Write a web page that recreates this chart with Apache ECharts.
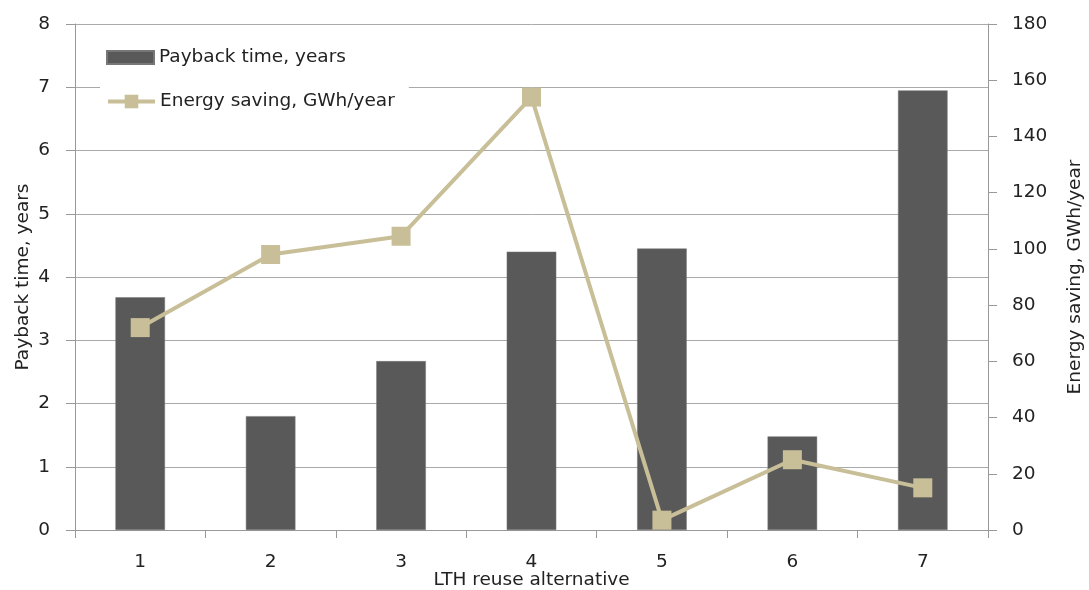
<!DOCTYPE html>
<html><head><meta charset="utf-8">
<script src="https://cdn.jsdelivr.net/npm/echarts@6/dist/echarts.min.js"></script>
<style>html,body{margin:0;padding:0;background:#fff}#c{width:1089px;height:590px}</style>
</head><body><div id="c"></div>
<script>
const categories = ['1','2','3','4','5','6','7'];
const payback = [3.68, 1.8, 2.67, 4.4, 4.45, 1.48, 6.95];
const energy = [72, 98, 104.5, 154, 3.5, 25, 15];
const leftTicks = [0,1,2,3,4,5,6,7,8];
const rightTicks = [0,20,40,60,80,100,120,140,160,180];

const FONT = '"DejaVu Sans", "Noto Sans", sans-serif';
const FS = 18.5;
const chart = echarts.init(document.getElementById('c'));
chart.setOption({
  animation: false,
  textStyle: {fontFamily: FONT},
  grid: {left: 75, right: 101, top: 24, bottom: 60, outerBoundsMode: 'none', containLabel: false},
  legend: [{
    data: [{name: 'Payback time, years', icon: 'rect'}],
    left: 100, top: 42, orient: 'vertical',
    backgroundColor: '#fff', padding: [6, 30, 22, 6],
    itemWidth: 47, itemHeight: 13, itemGap: 4,
    textStyle: {fontSize: FS, color: '#222', fontFamily: FONT}
  },{
    data: [{name: 'Energy saving, GWh/year'}],
    left: 100, top: 86, orient: 'vertical',
    backgroundColor: '#fff', padding: [6, 14, 6, 6],
    itemWidth: 47, itemHeight: 17, itemGap: 4,
    lineStyle: {width: 4},
    textStyle: {fontSize: FS, color: '#222', fontFamily: FONT}
  }],
  xAxis: {
    type: 'category', data: categories,
    name: 'LTH reuse alternative', nameLocation: 'middle', nameGap: 41,
    nameMoveOverlap: false,
    nameTextStyle: {fontSize: FS, color: '#222'},
    axisLine: {lineStyle: {color: '#999', width: 1}},
    axisTick: {show: true, length: 8, lineStyle: {color: '#999'}},
    axisLabel: {fontSize: FS, color: '#222', margin: 23}
  },
  yAxis: [{
    type: 'value', min: 0, max: 8, interval: 1,
    name: 'Payback time, years', nameLocation: 'middle', nameGap: 42,
    nameMoveOverlap: false,
    nameTextStyle: {fontSize: FS, color: '#222'},
    axisLine: {show: true, lineStyle: {color: '#999'}},
    axisTick: {show: true, length: 9, lineStyle: {color: '#999'}},
    axisLabel: {fontSize: FS, color: '#222', margin: 25},
    splitLine: {lineStyle: {color: '#aaa', width: 1}}
  },{
    type: 'value', min: 0, max: 180, interval: 20,
    name: 'Energy saving, GWh/year', nameLocation: 'middle', nameGap: 78,
    nameMoveOverlap: false,
    nameRotate: 90,
    nameTextStyle: {fontSize: FS, color: '#222'},
    axisLine: {show: true, lineStyle: {color: '#999'}},
    axisTick: {show: true, length: 9, lineStyle: {color: '#999'}},
    axisLabel: {fontSize: FS, color: '#222', margin: 24},
    splitLine: {show: false}
  }],
  series: [{
    name: 'Payback time, years', type: 'bar', data: payback,
    barWidth: '38%', itemStyle: {color: '#595959', borderColor: '#777', borderWidth: 0.5}
  },{
    name: 'Energy saving, GWh/year', type: 'line', yAxisIndex: 1, data: energy,
    symbol: 'rect', symbolSize: 19,
    lineStyle: {color: '#c8bf98', width: 4},
    itemStyle: {color: '#c8bf98'}
  }]
});
</script></body></html>
